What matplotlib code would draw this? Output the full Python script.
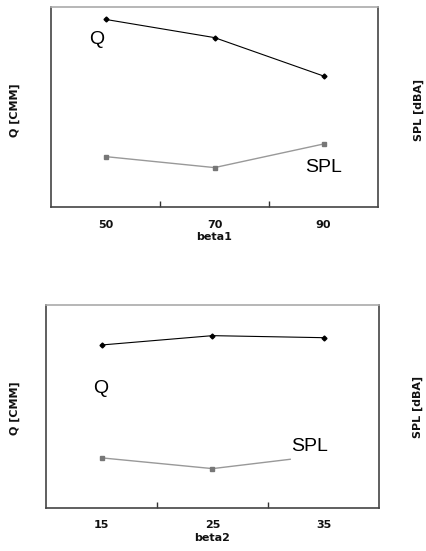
import numpy as np
import matplotlib
matplotlib.use("Agg")
import matplotlib.pyplot as plt

# top panel: beta1
beta1 = [50, 70, 90]
q1 = [93.8, 84.7, 65.5]
spl1 = [25.2, 19.7, 31.5]

# bottom panel: beta2 (SPL line stops short of the last category)
beta2 = [15, 25, 35]
q2 = [80.3, 84.9, 83.9]
spl2_x = [15, 25, 32]
spl2 = [24.7, 19.4, 24.0]

W, H = 427, 551
fig = plt.figure(figsize=(W / 100, H / 100), dpi=100)

def px_axes(l, t, r, b):
    return fig.add_axes([l / W, 1 - b / H, (r - l) / W, (b - t) / H])

lab = dict(fontsize=8, fontweight="bold", family="DejaVu Sans", color="#111111")

def setup(ax, xlim, ticks, cats, xlabel):
    ax.set_xlim(*xlim)
    ax.set_ylim(0, 100)
    ax.set_yticks([])
    ax.set_xticks(ticks)
    ax.set_xticklabels([])
    ax.tick_params(axis="x", direction="in", length=4, width=1, color="#333333")
    ax.set_xticks(cats, minor=True)
    ax.set_xticklabels([str(c) for c in cats], minor=True, **lab)
    ax.tick_params(axis="x", which="minor", length=0, pad=9)
    for s in ["left", "bottom", "right"]:
        ax.spines[s].set_color("#444444")
        ax.spines[s].set_linewidth(1.2)
    ax.spines["top"].set_color("#aaaaaa")
    ax.spines["top"].set_linewidth(1.2)
    ax.set_xlabel(xlabel, labelpad=2, **lab)

# top
ax1 = px_axes(51, 7, 378, 207)
setup(ax1, (40, 100), [60, 80], beta1, "beta1")
ax1.plot(beta1, q1, color="black", lw=0.8, marker="D", ms=2.5)
ax1.plot(beta1, spl1, color="#999999", lw=1.0, marker="s", ms=3.5,
         mfc="#777777", mec="#777777")
ax1.text(48.4, 83.5, "Q", fontsize=14, family="Liberation Sans", ha="center", va="center")
ax1.text(90, 20, "SPL", fontsize=14, family="Liberation Sans", ha="center", va="center")
fig.text(15 / W, 1 - 110 / H, "Q [CMM]", rotation=90, ha="center", va="center", **lab)
fig.text(419 / W, 1 - 110 / H, "SPL [dBA]", rotation=90, ha="center", va="center", **lab)

# bottom
ax2 = px_axes(46, 305, 379, 508)
setup(ax2, (10, 40), [20, 30], beta2, "beta2")
ax2.plot(beta2, q2, color="black", lw=0.8, marker="D", ms=2.5)
ax2.plot(spl2_x, spl2, color="#999999", lw=1.0, marker="s", ms=3.5,
         mfc="#777777", mec="#777777", markevery=[0, 1])
ax2.text(14.9, 59, "Q", fontsize=14, family="Liberation Sans", ha="center", va="center")
ax2.text(33.7, 30.4, "SPL", fontsize=14, family="Liberation Sans", ha="center", va="center")
fig.text(15 / W, 1 - 408 / H, "Q [CMM]", rotation=90, ha="center", va="center", **lab)
fig.text(418 / W, 1 - 407 / H, "SPL [dBA]", rotation=90, ha="center", va="center", **lab)

fig.savefig("out.png", dpi=100)
